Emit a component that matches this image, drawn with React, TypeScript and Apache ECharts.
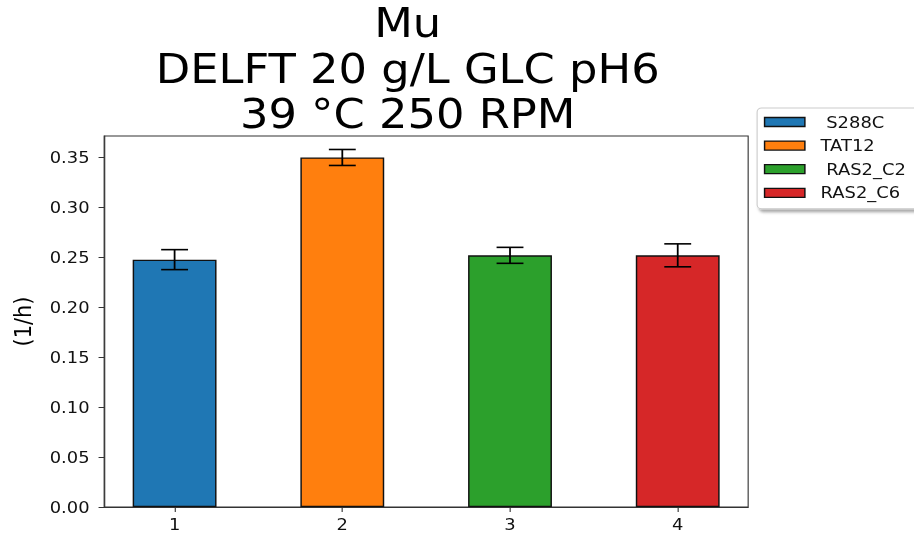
import React, { useEffect, useRef } from "react";
import * as echarts from "echarts";

const categories = [1, 2, 3, 4];
const seriesNames = [" S288C", "TAT12", " RAS2_C2", "RAS2_C6"];
const values = [0.2477, 0.35, 0.252, 0.252];
const errors = [0.01, 0.008, 0.008, 0.0115];
const colors = ["#1f77b4", "#ff7f0e", "#2ca02c", "#d62728"];
const yTickValues = [0, 0.05, 0.1, 0.15, 0.2, 0.25, 0.3, 0.35];
const titleLines = ["Mu", "DELFT 20 g/L GLC pH6", "39 °C 250 RPM"];
const yLabel = "(1/h)";

const STRETCH = 1.12;
const W = 816;
const H = 537;
const FONT = "DejaVu Sans";

export default function App() {
  const ref = useRef<HTMLDivElement>(null);
  useEffect(() => {
    document.body.style.margin = "0";
    if (!ref.current) return;
    const chart = echarts.init(ref.current, null, { renderer: "svg" });
    const gridLeft = 93;
    const gridRight = 148;
    const xMin = 0.58;
    const xMax = 4.42;
    const gridWidth = W - gridLeft - gridRight;
    const barWidth = (gridWidth * 0.5) / (xMax - xMin);

    const barSeries = seriesNames.map((name, i) => ({
      name,
      type: "bar",
      data: [[categories[i], values[i]]],
      barWidth,
      barGap: "-100%",
      itemStyle: { color: colors[i], borderColor: "#111", borderWidth: 1.3 },
      z: 2,
    }));

    const errSeries = {
      type: "custom",
      name: "err",
      data: categories.map((c, i) => [c, values[i] - errors[i], values[i] + errors[i]]),
      encode: { x: 0, y: [1, 2] },
      z: 10,
      renderItem: (params: any, api: any) => {
        const x = api.value(0);
        const lo = api.coord([x, api.value(1)]);
        const hi = api.coord([x, api.value(2)]);
        const hw = 12;
        const style = { stroke: "#000", lineWidth: 1.6 };
        return {
          type: "group",
          children: [
            { type: "line", shape: { x1: lo[0], y1: lo[1], x2: hi[0], y2: hi[1] }, style },
            { type: "line", shape: { x1: lo[0] - hw, y1: lo[1], x2: lo[0] + hw, y2: lo[1] }, style },
            { type: "line", shape: { x1: hi[0] - hw, y1: hi[1], x2: hi[0] + hw, y2: hi[1] }, style },
          ],
        };
      },
    };

    chart.setOption({
      animation: false,
      backgroundColor: "#fff",
      textStyle: { fontFamily: FONT },
      title: {
        text: titleLines.join("\n"),
        left: 359,
        top: -4,
        textAlign: "center",
        textStyle: { fontFamily: FONT, fontSize: 40, fontWeight: "normal", color: "#000", lineHeight: 45.5 },
      },
      legend: {
        data: seriesNames,
        orient: "vertical",
        left: 676,
        top: 108,
        icon: "rect",
        itemWidth: 36,
        itemHeight: 9,
        itemGap: 7.6,
        padding: [6, 12, 8, 6],
        backgroundColor: "#fff",
        borderColor: "#ccc",
        borderWidth: 1,
        borderRadius: 4,
        shadowBlur: 3,
        shadowColor: "rgba(0,0,0,0.35)",
        shadowOffsetX: 2,
        shadowOffsetY: 3,
        itemStyle: { borderColor: "#111", borderWidth: 1.3 },
        textStyle: { fontFamily: FONT, fontSize: 16, color: "#111", lineHeight: 16, padding: [0, 0, 0, 9] },
      },
      grid: {
        left: gridLeft,
        right: gridRight,
        top: 136,
        bottom: 30,
        show: true,
        borderColor: "#333",
        borderWidth: 1,
        containLabel: false,
      },
      xAxis: {
        type: "value",
        min: xMin,
        max: xMax,
        splitLine: { show: false },
        axisLine: { show: true, lineStyle: { color: "#333", width: 1 } },
        axisTick: { show: true, customValues: categories, length: 5, lineStyle: { color: "#333" } },
        axisLabel: {
          customValues: categories,
          margin: 9,
          fontFamily: FONT,
          fontSize: 16,
          color: "#111",
          formatter: (v: number) => String(v),
        },
      },
      yAxis: {
        type: "value",
        min: 0,
        max: 0.3715,
        splitLine: { show: false },
        axisLine: { show: true, lineStyle: { color: "#333", width: 1 } },
        axisTick: { show: true, customValues: yTickValues, length: 5, lineStyle: { color: "#333" } },
        axisLabel: {
          customValues: yTickValues,
          margin: 13,
          fontFamily: FONT,
          fontSize: 16,
          color: "#111",
          formatter: (v: number) => v.toFixed(2),
        },
        name: yLabel,
        nameLocation: "middle",
        nameRotate: 90,
        nameGap: 62,
        nameTextStyle: { fontFamily: FONT, fontSize: 21, color: "#000" },
      },
      series: [...barSeries, errSeries],
    });
    return () => chart.dispose();
  }, []);
  return (
    <div
      ref={ref}
      style={{
        width: W,
        height: H,
        transform: `scaleX(${STRETCH})`,
        transformOrigin: "0 0",
      }}
    />
  );
}
